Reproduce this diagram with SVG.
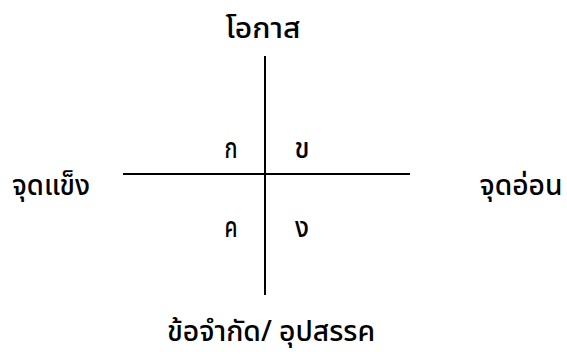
<svg xmlns="http://www.w3.org/2000/svg" width="567" height="356" viewBox="0 0 567 356">
<style>
text{font-family:"Noto Sans Thai","Noto Sans","DejaVu Sans",sans-serif;font-size:29px;font-weight:500;fill:#000;text-anchor:middle}
.ax{stroke:#000;stroke-width:2;fill:none}
</style>
<rect width="567" height="356" fill="#fff"/>
<g id="connectors">
<line class="ax" x1="265" y1="56" x2="265" y2="295"/>
<line class="ax" x1="123" y1="174" x2="410" y2="174"/>
</g>
<g id="top"><text x="263" y="38" textLength="75" lengthAdjust="spacingAndGlyphs">โอกาส</text></g>
<g id="left"><text x="51" y="195" textLength="78" lengthAdjust="spacingAndGlyphs">จุดแข็ง</text></g>
<g id="right"><text x="521" y="195" textLength="83" lengthAdjust="spacingAndGlyphs">จุดอ่อน</text></g>
<g id="bottom"><text x="271" y="341" textLength="208" lengthAdjust="spacingAndGlyphs">ข้อจำกัด/ อุปสรรค</text></g>
<g id="qa"><text x="231" y="158" textLength="13" lengthAdjust="spacingAndGlyphs">ก</text></g>
<g id="qb"><text x="302" y="158" textLength="15" lengthAdjust="spacingAndGlyphs">ข</text></g>
<g id="qc"><text x="231" y="237" textLength="13" lengthAdjust="spacingAndGlyphs">ค</text></g>
<g id="qd"><text x="302" y="237" textLength="14" lengthAdjust="spacingAndGlyphs">ง</text></g>
</svg>
